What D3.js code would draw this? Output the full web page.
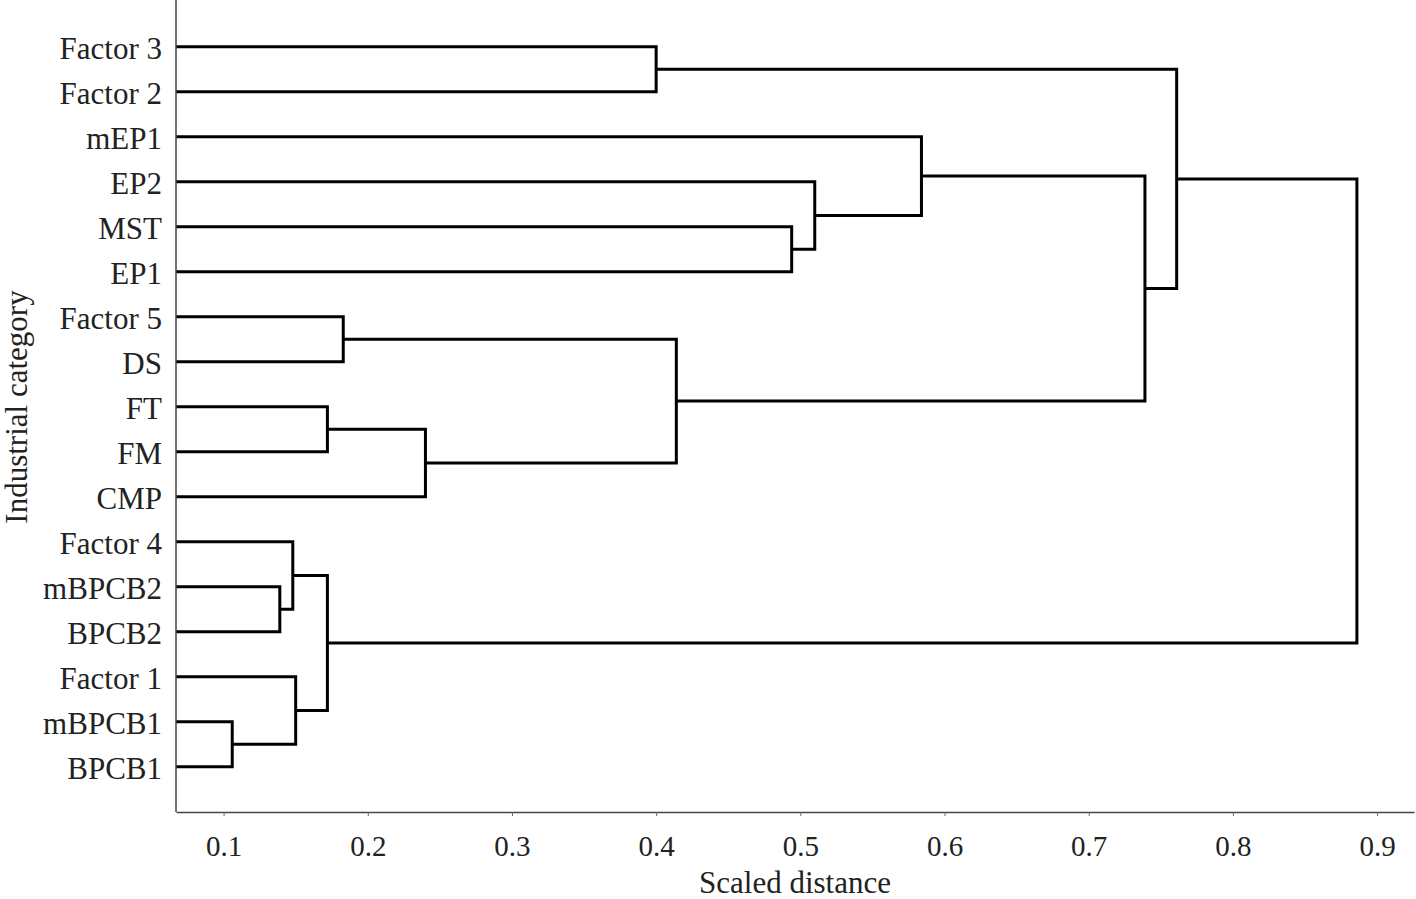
<!DOCTYPE html>
<html>
<head>
<meta charset="utf-8">
<script src="https://cdn.jsdelivr.net/npm/d3@7"></script>
<style>
  html, body { margin: 0; padding: 0; background: #fff; }
  svg { display: block; }
  text { font-family: "Liberation Serif", "Times New Roman", serif; fill: #222; }
</style>
</head>
<body>
<svg id="chart" width="1416" height="899"></svg>
<script>
// Leaves, top to bottom
const leaves = ["Factor 3","Factor 2","mEP1","EP2","MST","EP1","Factor 5","DS","FT","FM","CMP","Factor 4","mBPCB2","BPCB2","Factor 1","mBPCB1","BPCB1"];
// Linkage: [childA, childB, distance]; ids >= leaves.length refer to earlier merges
const merges = [
  [15, 16, 0.106],  // 17
  [12, 13, 0.139],  // 18
  [11, 18, 0.148],  // 19
  [14, 17, 0.150],  // 20
  [19, 20, 0.172],  // 21
  [8, 9, 0.172],    // 22
  [6, 7, 0.183],    // 23
  [22, 10, 0.240],  // 24
  [23, 24, 0.414],  // 25
  [0, 1, 0.400],    // 26
  [4, 5, 0.494],    // 27
  [3, 27, 0.510],   // 28
  [2, 28, 0.584],   // 29
  [29, 25, 0.739],  // 30
  [26, 30, 0.761],  // 31
  [31, 21, 0.886]   // 32
];
const xTicks = [0.1, 0.2, 0.3, 0.4, 0.5, 0.6, 0.7, 0.8, 0.9];
const xDomain = [0.067, 0.9256];

const svg = d3.select("#chart");
const left = 176, right = 1414, axisY = 812;

const x = d3.scaleLinear().domain(xDomain).range([left, right]);
const y = d3.scalePoint().domain(leaves).range([46.7, 766.7]);

// node positions
const nodes = leaves.map(name => ({ x: x(xDomain[0]), y: y(name) }));
merges.forEach(([a, b, h]) => {
  nodes.push({ x: x(h), y: (nodes[a].y + nodes[b].y) / 2 });
});

// links
const g = svg.append("g");
g.selectAll("path.link")
  .data(merges.map((m, i) => ({ a: nodes[m[0]], b: nodes[m[1]], m: nodes[leaves.length + i] })))
  .join("path")
  .attr("class", "link")
  .attr("fill", "none")
  .attr("stroke", "#000")
  .attr("stroke-width", 3)
  .attr("stroke-linejoin", "miter")
  .attr("d", d => {
    const p = d3.path();
    p.moveTo(d.a.x, d.a.y);
    p.lineTo(d.m.x, d.a.y);
    p.lineTo(d.m.x, d.b.y);
    p.lineTo(d.b.x, d.b.y);
    return p.toString();
  });

// y axis line
svg.append("line")
  .attr("x1", left).attr("x2", left)
  .attr("y1", 0).attr("y2", axisY)
  .attr("stroke", "#444").attr("stroke-width", 1.5);

// x axis
const xAxis = svg.append("g")
  .attr("transform", `translate(0,${axisY})`)
  .call(d3.axisBottom(x).tickValues(xTicks).tickSize(4).tickSizeOuter(0).tickFormat(d3.format(".1f")));
xAxis.select(".domain").attr("stroke", "#444").attr("stroke-width", 1.5);
xAxis.selectAll(".tick line").attr("stroke", "#666").attr("stroke-width", 1);
xAxis.selectAll(".tick text")
  .attr("y", 44).attr("dy", 0)
  .style("font-size", "29px")
  .style("font-family", "'Liberation Serif', serif")
  .attr("fill", "#222");

// category labels
const yAxis = svg.append("g")
  .attr("transform", `translate(${left},0)`)
  .call(d3.axisLeft(y).tickSize(0).tickPadding(14));
yAxis.select(".domain").remove();
yAxis.selectAll(".tick text")
  .attr("dy", "0.37em")
  .style("font-size", "31px")
  .style("font-family", "'Liberation Serif', serif")
  .attr("fill", "#222");

// axis titles
svg.append("text")
  .attr("x", 795).attr("y", 893)
  .attr("text-anchor", "middle")
  .style("font-size", "31px")
  .text("Scaled distance");

svg.append("text")
  .attr("transform", "translate(27,407) rotate(-90)")
  .attr("text-anchor", "middle")
  .style("font-size", "31px")
  .text("Industrial category");
</script>
</body>
</html>
